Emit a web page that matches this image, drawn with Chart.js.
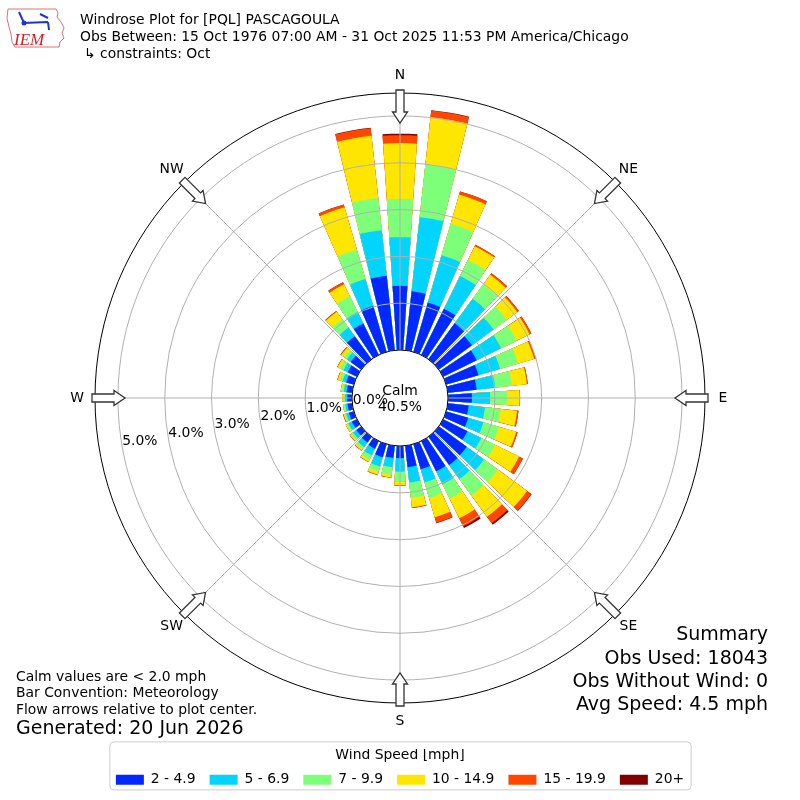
<!DOCTYPE html>
<html lang="en">
<head>
<meta charset="UTF-8">
<title>Windrose Plot for [PQL] PASCAGOULA</title>
<script src="https://cdn.jsdelivr.net/npm/chart.js@4.4.1/dist/chart.umd.min.js"></script>
<style>
  html, body { margin: 0; padding: 0; background: #fff; }
  canvas { display: block; }
</style>
</head>
<body>
<canvas id="rose" width="800" height="800"></canvas>
<script>
// direction bins (deg, meteorological) and percent of obs per speed bin
const directions = [0, 10, 20, 30, 40, 50, 60, 70, 80, 90, 100, 110, 120, 130, 140, 150, 160, 170,
                    180, 190, 200, 210, 220, 230, 240, 250, 260, 270, 280, 290, 300, 310, 320, 330, 340, 350];
const speedBins = ['2 - 4.9', '5 - 6.9', '7 - 9.9', '10 - 14.9', '15 - 19.9', '20+'];
const binColors = ['#0028ff', '#00d4ff', '#7dff7a', '#ffe600', '#ff4700', '#800000'];

const pct2to5 = [1.37, 1.27, 1.10, 1.10, 0.95, 0.88, 0.80, 0.72, 0.62, 0.51, 0.45, 0.49, 0.58, 0.74, 0.75, 0.72, 0.56, 0.46,
                 0.26, 0.26, 0.29, 0.18, 0.15, 0.13, 0.12, 0.11, 0.10, 0.10, 0.12, 0.17, 0.22, 0.28, 0.61, 0.75, 1.02, 1.60];
const pct5to7 = [1.04, 1.59, 1.05, 0.78, 0.65, 0.57, 0.58, 0.48, 0.40, 0.39, 0.35, 0.34, 0.33, 0.46, 0.37, 0.31, 0.29, 0.33,
                 0.29, 0.20, 0.21, 0.16, 0.12, 0.09, 0.08, 0.06, 0.05, 0.05, 0.06, 0.08, 0.10, 0.10, 0.23, 0.27, 0.60, 0.98];
const pct7to10 = [0.82, 1.14, 0.70, 0.38, 0.38, 0.35, 0.37, 0.40, 0.36, 0.36, 0.34, 0.35, 0.33, 0.37, 0.44, 0.34, 0.35, 0.33,
                  0.21, 0.16, 0.11, 0.10, 0.06, 0.05, 0.04, 0.04, 0.03, 0.03, 0.04, 0.06, 0.08, 0.07, 0.22, 0.38, 0.65, 0.69];
const pct10to15 = [1.19, 1.01, 0.65, 0.33, 0.26, 0.28, 0.31, 0.36, 0.32, 0.27, 0.35, 0.38, 0.57, 0.77, 0.56, 0.47, 0.43, 0.20,
                   0.08, 0.06, 0.07, 0.05, 0.03, 0.03, 0.03, 0.02, 0.02, 0.03, 0.03, 0.05, 0.06, 0.08, 0.20, 0.28, 0.95, 1.34];
const pct15to20 = [0.17, 0.14, 0.07, 0.03, 0.04, 0.04, 0.04, 0.03, 0.02, 0.01, 0.03, 0.03, 0.09, 0.11, 0.17, 0.19, 0.12, 0.02,
                   0.01, 0.01, 0.01, 0.01, 0.01, 0.01, 0.00, 0.01, 0.00, 0.00, 0.00, 0.01, 0.01, 0.02, 0.02, 0.05, 0.06, 0.16];
const pct20up = [0.03, 0.01, 0.00, 0.00, 0.00, 0.00, 0.00, 0.00, 0.00, 0.00, 0.00, 0.00, 0.00, 0.01, 0.04, 0.04, 0.01, 0.00,
                 0.00, 0.00, 0.00, 0.00, 0.00, 0.00, 0.00, 0.00, 0.00, 0.00, 0.00, 0.00, 0.00, 0.00, 0.00, 0.00, 0.00, 0.01];

const radialTicks = [0, 1, 2, 3, 4, 5];
const tickLabels = ['0.0%', '1.0%', '2.0%', '3.0%', '4.0%', '5.0%'];
const compassLabels = ['N', 'NE', 'E', 'SE', 'S', 'SW', 'W', 'NW'];
const calmPct = 40.5;

const titleLines = [
  'Windrose Plot for [PQL] PASCAGOULA',
  'Obs Between: 15 Oct 1976 07:00 AM - 31 Oct 2025 11:53 PM America/Chicago',
  '\u21b3 constraints: Oct'
];
const noteLines = ['Calm values are < 2.0 mph', 'Bar Convention: Meteorology', 'Flow arrows relative to plot center.'];
const generatedLine = 'Generated: 20 Jun 2026';
const summaryLines = ['Summary', 'Obs Used: 18043', 'Obs Without Wind: 0', 'Avg Speed: 4.5 mph'];

const FONT = '"DejaVu Sans"';
Chart.defaults.font.family = 'DejaVu Sans';
Chart.defaults.color = '#000';

// radial axis: 0% sits on the calm circle
const rMin = -1.026;
const rMax = 5.49;

// each bar is narrower than its 10 deg bin; N bar is split in two halves round 0 deg
const barWidth = 7.6;
const gapWidth = 10 - barWidth;
const elemDir = [0];
const elemAngle = [barWidth / 2];
for (let j = 1; j < directions.length; j++) {
  elemDir.push(null, j);
  elemAngle.push(gapWidth, barWidth);
}
elemDir.push(null, 0);
elemAngle.push(gapWidth, barWidth / 2);

const binValues = [pct2to5, pct5to7, pct7to10, pct10to15, pct15to20, pct20up];
// stacked: each dataset holds the running total, the smaller ones drawn on top
const cumulative = binValues.map((_, k) => directions.map((d, j) => {
  let s = 0;
  for (let m = 0; m <= k; m++) s += binValues[m][j];
  return s;
}));

const datasets = speedBins.map((label, k) => ({
  label: label,
  data: elemDir.map(j => j === null ? null : cumulative[k][j]),
  backgroundColor: elemDir.map(j => j === null ? 'rgba(0,0,0,0)' : binColors[k]),
  borderWidth: 0,
  angle: elemAngle
}));

function arrowPath(ctx, polar, deg) {
  const a = deg * Math.PI / 180;
  const px = Math.cos(a), py = Math.sin(a); // perpendicular
  const pt = (r, w) => {
    const [x, y] = polar(deg, r);
    return [x + w * px, y + w * py];
  };
  const pts = [pt(308, -4), pt(286, -4), pt(286, -7.5), pt(275, 0), pt(286, 7.5), pt(286, 4), pt(308, 4)];
  ctx.beginPath();
  ctx.moveTo(pts[0][0], pts[0][1]);
  for (let i = 1; i < pts.length; i++) ctx.lineTo(pts[i][0], pts[i][1]);
  ctx.closePath();
}

function drawLogo(ctx) {
  ctx.save();
  ctx.strokeStyle = '#e07070';
  ctx.lineWidth = 1;
  ctx.beginPath();
  ctx.moveTo(8, 9); ctx.lineTo(56, 9); ctx.lineTo(58, 13); ctx.lineTo(57, 17);
  ctx.lineTo(61, 22); ctx.lineTo(64, 28); ctx.lineTo(62, 33); ctx.lineTo(64, 38);
  ctx.lineTo(60, 42); ctx.lineTo(59, 47); ctx.lineTo(15, 47); ctx.lineTo(12, 42);
  ctx.lineTo(11, 34); ctx.lineTo(9, 27); ctx.lineTo(7, 18); ctx.closePath();
  ctx.stroke();
  ctx.strokeStyle = '#2233cc';
  ctx.fillStyle = '#2233cc';
  ctx.lineWidth = 2;
  ctx.beginPath();
  ctx.moveTo(19, 12); ctx.lineTo(24, 23); ctx.lineTo(48, 22);
  ctx.moveTo(40, 14); ctx.lineTo(48, 18);
  ctx.moveTo(48, 22); ctx.lineTo(49, 30);
  ctx.stroke();
  ctx.beginPath(); ctx.arc(24, 23, 2.5, 0, 2 * Math.PI); ctx.fill();
  ctx.fillStyle = '#cc1f2a';
  ctx.font = 'italic 17px "Liberation Serif"';
  ctx.textAlign = 'left';
  ctx.textBaseline = 'alphabetic';
  ctx.fillText('IEM', 14, 45);
  ctx.restore();
}

const decorations = {
  id: 'decorations',
  afterDraw(chart) {
    const ctx = chart.ctx;
    const s = chart.scales.r;
    const xc = s.xCenter, yc = s.yCenter;
    const polar = (deg, r) => {
      const a = deg * Math.PI / 180;
      return [xc + r * Math.sin(a), yc - r * Math.cos(a)];
    };
    ctx.save();

    // calm circle
    const r0 = s.getDistanceFromCenterForValue(0);
    ctx.beginPath();
    ctx.arc(xc, yc, r0, 0, 2 * Math.PI);
    ctx.fillStyle = '#fff';
    ctx.fill();
    ctx.lineWidth = 1;
    ctx.strokeStyle = '#000';
    ctx.stroke();
    ctx.fillStyle = '#000';
    ctx.font = '13.9px ' + FONT;
    ctx.textAlign = 'center';
    ctx.textBaseline = 'middle';
    ctx.fillText('Calm', xc, yc - 7);
    ctx.fillText(calmPct.toFixed(1) + '%', xc, yc + 9);

    // radial tick labels along 260 deg
    ctx.textAlign = 'left';
    ctx.textBaseline = 'bottom';
    radialTicks.forEach((v, i) => {
      const [x, y] = polar(260, s.getDistanceFromCenterForValue(v));
      ctx.fillText(tickLabels[i], x, y + 1);
    });

    // flow arrows and compass labels
    compassLabels.forEach((lab, i) => {
      const deg = i * 45;
      arrowPath(ctx, polar, deg);
      ctx.fillStyle = '#fff';
      ctx.fill();
      ctx.strokeStyle = '#333';
      ctx.lineWidth = 1.3;
      ctx.stroke();
      const [x, y] = polar(deg, 323);
      ctx.fillStyle = '#000';
      ctx.textAlign = 'center';
      ctx.textBaseline = 'middle';
      ctx.fillText(lab, x, y);
    });

    // header
    ctx.textAlign = 'left';
    ctx.textBaseline = 'middle';
    ctx.fillText(titleLines[0], 80, 20);
    ctx.fillText(titleLines[1], 80, 37);
    ctx.fillText(titleLines[2], 84, 54);

    // notes bottom left
    noteLines.forEach((t, i) => ctx.fillText(t, 16, 677 + i * 16.5));
    ctx.font = '19px ' + FONT;
    ctx.fillText(generatedLine, 16, 729);

    // summary bottom right
    ctx.textAlign = 'right';
    [635, 659, 682, 705].forEach((y, i) => ctx.fillText(summaryLines[i], 768, y));

    // legend frame
    const lg = chart.legend;
    if (lg && lg.legendHitBoxes.length) {
      const hb = lg.legendHitBoxes;
      const left = Math.min(...hb.map(h => h.left)) - 6;
      const right = Math.max(...hb.map(h => h.left + h.width)) + 7;
      const top = lg.top - 7;
      const bottom = lg.top + 41;
      ctx.beginPath();
      ctx.roundRect(left, top, right - left, bottom - top, 4);
      ctx.strokeStyle = '#cccccc';
      ctx.lineWidth = 1;
      ctx.stroke();
    }

    drawLogo(ctx);
    ctx.restore();
  }
};

new Chart(document.getElementById('rose'), {
  type: 'polarArea',
  data: {
    labels: elemDir.map(j => j === null ? '' : directions[j] + '\u00b0'),
    datasets: datasets
  },
  options: {
    responsive: false,
    animation: false,
    layout: { padding: { left: 95, right: 95, top: 47.5, bottom: 3.3 } },
    scales: {
      r: {
        min: rMin,
        max: rMax,
        startAngle: 0,
        labels: compassLabels,
        afterBuildTicks: scale => {
          scale.ticks = radialTicks.concat([rMax]).map(value => ({ value: value }));
        },
        ticks: { display: false },
        pointLabels: { display: false },
        grid: {
          z: 1,
          circular: true,
          lineWidth: 1,
          color: c => (c.tick && c.tick.value === rMax) ? '#000' : '#b0b0b0'
        },
        angleLines: { display: true, color: '#b0b0b0', lineWidth: 1 }
      }
    },
    plugins: {
      tooltip: { enabled: false },
      legend: {
        position: 'bottom',
        onClick: () => {},
        title: {
          display: true,
          text: 'Wind Speed [mph]',
          font: { size: 13.9, lineHeight: 1 },
          padding: { top: 0, bottom: -4 }
        },
        labels: {
          boxWidth: 28,
          boxHeight: 10,
          padding: 14,
          color: '#000',
          font: { size: 13.9 },
          generateLabels: chart => chart.data.datasets.map((ds, i) => ({
            text: ds.label,
            fillStyle: binColors[i],
            strokeStyle: binColors[i],
            lineWidth: 0,
            hidden: false,
            datasetIndex: i
          }))
        }
      }
    }
  },
  plugins: [decorations]
});
</script>
</body>
</html>
